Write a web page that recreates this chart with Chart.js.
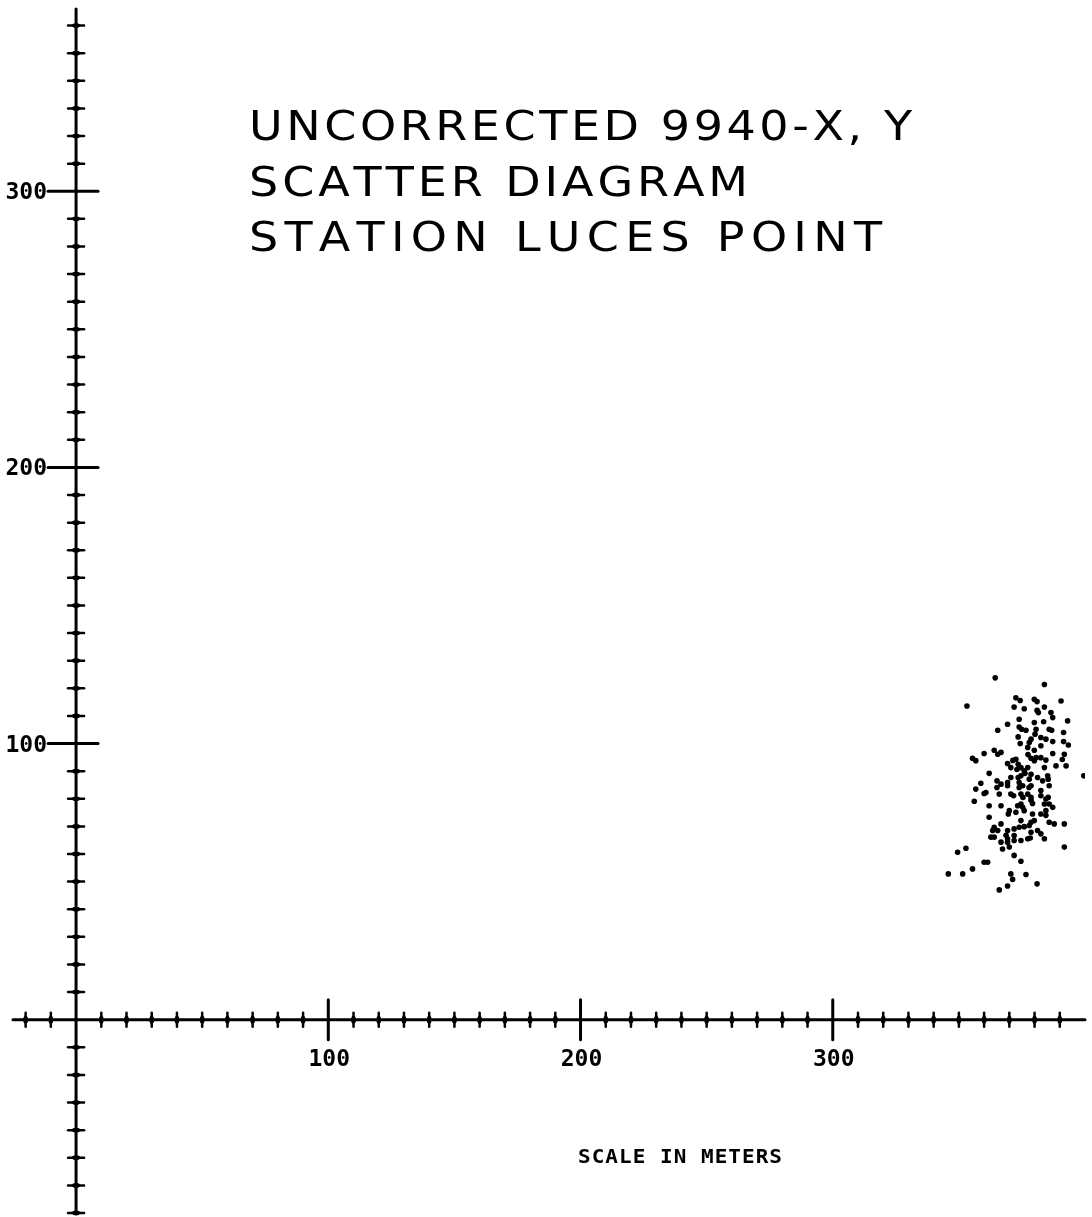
<!DOCTYPE html>
<html>
<head>
<meta charset="utf-8">
<script src="https://cdn.jsdelivr.net/npm/chart.js@4"></script>
<style>
    body { margin: 0; background: #fff; overflow: hidden; }
    canvas { display: block; }
</style>
</head>
<body>
<canvas id="chart" width="1092" height="1217"></canvas>
<script>
const titleLines = ['UNCORRECTED 9940-X, Y', 'SCATTER DIAGRAM', 'STATION LUCES POINT']
const xAxisTitle = 'SCALE IN METERS'
const xMajorTicks = [100, 200, 300]
const yMajorTicks = [100, 200, 300]
const xTickLabels = ['100', '200', '300']
const yTickLabels = ['100', '200', '300']
const minorStep = 10

// x, y of each fix (meters)
const eastings = [
    364.4, 383.9, 353.2, 372.6, 374.3, 379.9, 381.0, 390.5, 371.9, 375.9,
    381.0, 381.5, 383.9, 386.5, 387.2, 373.9, 393.1, 369.3, 373.9, 374.9,
    379.9, 383.6, 365.4, 376.6, 380.6, 380.2, 385.8, 386.8, 391.5, 373.5,
    378.6, 377.9, 377.3, 382.5, 384.5, 387.2, 391.5, 393.4, 374.3, 379.9,
    382.5, 360.0, 364.0, 365.4, 366.7, 355.4, 356.7, 369.3, 372.6, 373.5,
    374.6, 378.6, 379.9, 382.5, 384.5, 387.2, 391.8, 388.5, 392.5, 383.9,
    377.3, 375.9, 374.6, 378.6, 377.9, 399.5, 362.0, 365.1, 366.7, 369.3,
    369.3, 373.5, 373.9, 381.2, 383.2, 385.2, 385.4, 358.7, 356.7, 373.9,
    375.3, 378.6, 385.8, 360.0, 360.7, 366.0, 370.6, 371.7, 374.6, 377.3,
    378.6, 382.5, 384.5, 385.4, 356.1, 378.6, 379.2, 373.3, 374.6, 375.3,
    383.9, 385.8, 387.2, 362.0, 366.7, 370.0, 369.6, 372.6, 375.9, 379.2,
    382.5, 384.5, 362.0, 374.6, 378.6, 379.9, 385.8, 387.8, 391.8, 366.7,
    364.0, 363.4, 365.4, 369.3, 371.9, 373.9, 375.9, 377.9, 381.2, 382.5,
    383.9, 362.7, 364.0, 366.7, 369.3, 369.3, 371.9, 371.9, 374.6, 377.3,
    378.3, 391.8, 352.8, 349.5, 367.3, 370.0, 371.9, 360.0, 361.4, 374.6,
    355.4, 351.5, 345.8, 370.6, 376.6, 371.3, 381.0, 369.3, 366.0,
    371.4, 373.0, 376.2, 370.6, 377.8, 375.4, 365.1, 380.6, 370.6, 368.7,
    378.6, 384.5, 377.4, 382.5, 391.0
]
const northings = [
    123.8, 121.4, 113.6, 116.6, 115.6, 116.0, 115.2, 115.4, 113.2, 112.6,
    112.0, 111.2, 113.2, 111.2, 109.4, 108.8, 108.2, 107.0, 106.0, 105.2,
    107.6, 107.9, 104.8, 104.8, 105.2, 103.4, 105.2, 104.8, 104.0, 102.4,
    101.6, 100.4, 98.6, 102.2, 101.6, 100.7, 100.7, 99.5, 100.0, 97.6,
    99.2, 96.4, 97.6, 96.1, 96.8, 94.7, 93.8, 92.8, 94.3, 92.5,
    91.3, 94.7, 93.8, 94.9, 94.0, 96.4, 96.1, 91.9, 91.9, 91.3,
    91.3, 90.1, 88.3, 88.9, 87.1, 88.3, 89.2, 86.5, 85.3, 85.9,
    84.7, 87.7, 85.9, 87.7, 86.5, 88.3, 87.1, 85.6, 83.5, 84.1,
    84.7, 84.7, 84.7, 81.9, 82.3, 81.7, 81.7, 81.1, 81.7, 81.7,
    80.5, 81.1, 79.9, 80.5, 79.1, 79.5, 78.3, 77.5, 78.1, 76.9,
    78.1, 78.1, 76.9, 77.5, 77.5, 75.7, 74.5, 75.1, 75.7, 74.5,
    74.5, 75.7, 73.3, 72.1, 71.5, 72.1, 71.5, 70.9, 70.9, 70.9,
    69.7, 68.5, 68.5, 68.5, 69.1, 69.7, 69.9, 70.3, 68.5, 67.3,
    65.5, 66.1, 66.1, 64.3, 65.5, 64.3, 66.7, 64.9, 64.9, 65.5,
    65.8, 62.5, 62.1, 60.6, 61.8, 62.5, 59.5, 57.0, 57.0, 57.4,
    54.6, 52.8, 52.8, 52.8, 52.6, 50.8, 49.2, 48.4, 47.0,
    93.9, 90.6, 89.2, 87.7, 84.1, 80.5, 84.1, 94.9, 91.3, 66.8,
    67.9, 74.0, 96.0, 83.0, 94.2
]

// hand-drawn plotter axes through the origin, using the chart's own scales
const plotterAxes = {
    id: 'plotterAxes',
    beforeDatasetsDraw(chart) {
        const c = chart.ctx
        const xs = chart.scales.x
        const ys = chart.scales.y
        const ox = xs.getPixelForValue(0)
        const oy = ys.getPixelForValue(0)
        c.save()
        c.strokeStyle = '#000'
        c.fillStyle = '#000'
        c.lineCap = 'round'

        c.lineWidth = 3
        c.beginPath()
        c.moveTo(xs.left, oy)
        c.lineTo(xs.right, oy)
        c.moveTo(ox, ys.top)
        c.lineTo(ox, ys.bottom)
        c.stroke()

        c.lineWidth = 2.5
        for (let v = Math.ceil(xs.min / minorStep) * minorStep; v < xs.max; v += minorStep) {
            if (v === 0 || xMajorTicks.includes(v)) continue
            const px = xs.getPixelForValue(v)
            c.beginPath()
            c.moveTo(px, oy - 7)
            c.lineTo(px, oy + 7)
            c.stroke()
            c.beginPath()
            c.ellipse(px, oy, 2.4, 4, 0, 0, Math.PI * 2)
            c.fill()
        }
        for (let v = Math.ceil(ys.min / minorStep) * minorStep; v < ys.max; v += minorStep) {
            if (v === 0 || yMajorTicks.includes(v)) continue
            const py = ys.getPixelForValue(v)
            c.beginPath()
            c.moveTo(ox - 8, py)
            c.lineTo(ox + 8, py)
            c.stroke()
            c.beginPath()
            c.ellipse(ox, py, 4, 2.4, 0, 0, Math.PI * 2)
            c.fill()
        }

        c.lineWidth = 3
        xMajorTicks.forEach(v => {
            const px = xs.getPixelForValue(v)
            c.beginPath()
            c.moveTo(px, oy - 20)
            c.lineTo(px, oy + 20)
            c.stroke()
        })
        yMajorTicks.forEach(v => {
            const py = ys.getPixelForValue(v)
            c.beginPath()
            c.moveTo(ox - 28, py)
            c.lineTo(ox + 22, py)
            c.stroke()
        })

        c.font = 'bold 23px "DejaVu Sans Mono"'
        c.textBaseline = 'alphabetic'
        c.textAlign = 'center'
        xMajorTicks.forEach((v, i) => {
            c.fillText(xTickLabels[i], xs.getPixelForValue(v) + 1, oy + 46)
        })
        c.textAlign = 'right'
        yMajorTicks.forEach((v, i) => {
            c.fillText(yTickLabels[i], ox - 29, ys.getPixelForValue(v) + 8)
        })
        c.restore()
    }
}

// spread characters over a given width, each glyph stretched by sx
function drawFitted(c, text, x, y, width, sx) {
    const chars = [...text]
    const widths = chars.map(ch => c.measureText(ch).width * sx)
    const natural = widths.reduce((a, b) => a + b, 0)
    const gap = (width - natural) / (chars.length - 1)
    let cx = x
    chars.forEach((ch, i) => {
        c.save()
        c.translate(cx, y)
        c.scale(sx, 1)
        c.fillText(ch, 0, 0)
        c.restore()
        cx += widths[i] + gap
    })
}

const plotterText = {
    id: 'plotterText',
    afterDraw(chart) {
        const c = chart.ctx
        c.save()
        c.fillStyle = '#000'
        c.textAlign = 'left'
        c.textBaseline = 'alphabetic'
        c.font = '40px "DejaVu Sans"'
        const ends = [912, 748, 882]
        const bases = [140, 196, 251]
        titleLines.forEach((t, i) => drawFitted(c, t, 249, bases[i], ends[i] - 249, 1.15))
        c.font = 'bold 20px "DejaVu Sans Mono"'
        drawFitted(c, xAxisTitle, 578, 1163, 204, 1.05)
        c.restore()
    }
}

const ctx = document.getElementById('chart').getContext('2d')

const chart = new Chart(ctx, {
    type: 'scatter',
    data: {
        datasets: [{
            label: 'fixes',
            data: eastings.map((x, i) => ({ x: x, y: northings[i] })),
            backgroundColor: '#000',
            borderWidth: 0,
            pointRadius: 2.8,
        }]
    },
    options: {
        responsive: false,
        animation: false,
        layout: { padding: { left: 13, right: 7, top: 9, bottom: 0 } },
        plugins: {
            legend: { display: false },
            tooltip: { enabled: false },
        },
        scales: {
            x: { type: 'linear', min: -25, max: 400, display: false },
            y: { type: 'linear', min: -70, max: 366, display: false },
        }
    },
    plugins: [plotterAxes, plotterText]
})
</script>
</body>
</html>
